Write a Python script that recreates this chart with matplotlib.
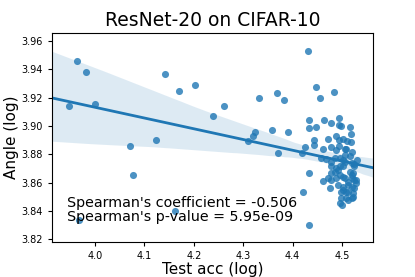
import numpy as np
import matplotlib
matplotlib.use('Agg')
import matplotlib.pyplot as plt
import seaborn as sns

# test accuracy (log) and angle (log)
test_acc = [3.964, 3.983, 3.947, 4.000, 4.072, 4.077, 3.968, 4.124, 4.142, 4.171,
            4.203, 4.163, 4.239, 4.261, 4.309, 4.323, 4.320, 4.331, 4.359, 4.368,
            4.383, 4.391, 4.370, 4.431, 4.447, 4.456, 4.484, 4.432, 4.464, 4.477,
            4.494, 4.494, 4.498, 4.515, 4.432, 4.448, 4.517, 4.487, 4.471, 4.444,
            4.444, 4.494, 4.502, 4.509, 4.517, 4.424, 4.461, 4.477, 4.494, 4.506,
            4.519, 4.418, 4.458, 4.467, 4.495, 4.502, 4.478, 4.495, 4.502, 4.519,
            4.525, 4.492, 4.478, 4.515, 4.522, 4.432, 4.495, 4.502, 4.461, 4.471,
            4.478, 4.488, 4.519, 4.525, 4.492, 4.502, 4.512, 4.519, 4.525, 4.498,
            4.512, 4.522, 4.421, 4.519, 4.499, 4.512, 4.522, 4.433, 4.529, 4.475,
            4.525, 4.485, 4.488, 4.505, 4.512, 4.529, 4.502, 4.508, 4.498, 4.508,
            4.495, 4.478, 4.485, 4.505, 4.519, 4.488, 4.508, 4.515, 4.505, 4.530]
angle = [3.946, 3.938, 3.914, 3.9155, 3.886, 3.8655, 3.8335, 3.890, 3.937, 3.925,
         3.929, 3.840, 3.907, 3.914, 3.889, 3.8955, 3.893, 3.920, 3.897, 3.923,
         3.918, 3.8957, 3.881, 3.953, 3.9275, 3.920, 3.924, 3.904, 3.904, 3.902,
         3.9056, 3.9006, 3.900, 3.899, 3.8987, 3.899, 3.894, 3.893, 3.891, 3.890,
         3.8867, 3.890, 3.8907, 3.889, 3.8888, 3.885, 3.884, 3.885, 3.8858, 3.884,
         3.8816, 3.8806, 3.877, 3.8764, 3.877, 3.876, 3.872, 3.872, 3.8717, 3.8735,
         3.8717, 3.869, 3.8665, 3.8676, 3.8665, 3.8665, 3.8653, 3.864, 3.8613, 3.863,
         3.8618, 3.863, 3.863, 3.8618, 3.858, 3.857, 3.858, 3.857, 3.856, 3.8535,
         3.8535, 3.8524, 3.853, 3.849, 3.844, 3.848, 3.850, 3.830, 3.862, 3.856,
         3.873, 3.8676, 3.870, 3.863, 3.8606, 3.8594, 3.8547, 3.8535, 3.8488, 3.8488,
         3.8453, 3.8747, 3.877, 3.8747, 3.8653, 3.883, 3.8835, 3.8785, 3.8795, 3.876]

title = 'ResNet-20 on CIFAR-10'
stats_text = "Spearman's coefficient = -0.506\nSpearman's p-value = 5.95e-09"

fig = plt.figure(figsize=(4.15, 2.77), dpi=100)
ax = fig.add_axes([0.125, 0.126, 0.774, 0.755])
ax.set_xlim(3.913, 4.5626)
ax.set_ylim(3.8179, 3.9657)

sns.regplot(x=np.array(test_acc), y=np.array(angle), ax=ax, truncate=False, seed=0,
            ci=98, color='#1f77b4',
            scatter_kws={'s': 26, 'alpha': 0.8, 'linewidths': 0},
            line_kws={'lw': 2})

ax.set_xlim(3.913, 4.5626)
ax.set_ylim(3.8179, 3.9657)
ax.set_xticks([4.0, 4.1, 4.2, 4.3, 4.4, 4.5])
ax.set_yticks([3.82, 3.84, 3.86, 3.88, 3.90, 3.92, 3.94, 3.96])
ax.tick_params(labelsize=7, length=3)
ax.set_xlabel('Test acc (log)', fontsize=11, labelpad=0.5)
ax.set_ylabel('Angle (log)', fontsize=11, labelpad=2)
ax.set_title(title, fontsize=13.5, pad=5)
ax.text(0.047, 0.085, stats_text, transform=ax.transAxes, fontsize=10.3,
        linespacing=1.0, va='bottom', ha='left')

fig.savefig('out.png', dpi=100)
